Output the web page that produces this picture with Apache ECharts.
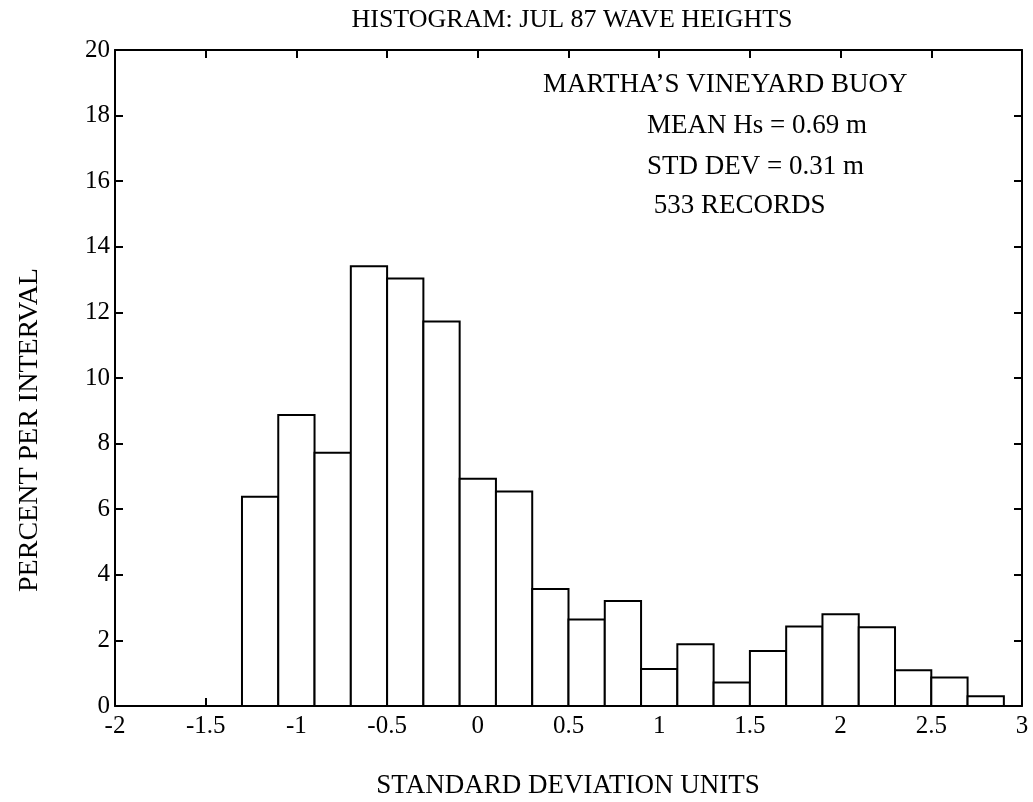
<!DOCTYPE html>
<html>
<head>
<meta charset="utf-8">
<script src="https://cdn.jsdelivr.net/npm/echarts@6/dist/echarts.min.js"></script>
<style>
html,body{margin:0;padding:0;background:#fff;}
#chart{width:1033px;height:802px;}
</style>
</head>
<body>
<div id="chart"></div>
<script>
// Histogram bins (left edge, standard deviation units) and bin width
const binLeft = [-1.3, -1.1, -0.9, -0.7, -0.5, -0.3, -0.1, 0.1, 0.3, 0.5, 0.7,
                 0.9, 1.1, 1.3, 1.5, 1.7, 1.9, 2.1, 2.3, 2.5, 2.7];
const binWidth = 0.2;
// Percent per interval
const percent = [6.38, 8.87, 7.72, 13.41, 13.03, 11.72, 6.93, 6.54, 3.57, 2.64, 3.2,
                 1.13, 1.88, 0.72, 1.68, 2.42, 2.8, 2.4, 1.09, 0.87, 0.3];
const titleText = 'HISTOGRAM: JUL 87 WAVE HEIGHTS';
const xName = 'STANDARD DEVIATION UNITS';
const yName = 'PERCENT PER INTERVAL';
const notes = ["MARTHA\u2019S VINEYARD BUOY", 'MEAN Hs = 0.69 m', 'STD DEV = 0.31 m', ' 533 RECORDS'];

const FONT = '"Liberation Serif", "DejaVu Serif", serif';
const chart = echarts.init(document.getElementById('chart'));
const data = binLeft.map((l, i) => [l, l + binWidth, percent[i]]);

function axisCommon() {
  return {
    axisLine: {show: true, onZero: false, lineStyle: {color: '#000', width: 2}},
    axisTick: {show: true, inside: true, length: 8, lineStyle: {color: '#000', width: 2}},
    splitLine: {show: false}
  };
}

chart.setOption({
  backgroundColor: '#fff',
  animation: false,
  grid: {left: 115, right: 11, top: 50, bottom: 96},
  xAxis: [
    Object.assign({type: 'value', min: -2, max: 3, interval: 0.5, position: 'bottom',
      axisLabel: {color: '#000', fontFamily: FONT, fontSize: 25, margin: 8}}, axisCommon()),
    Object.assign({type: 'value', min: -2, max: 3, interval: 0.5, position: 'top',
      axisLabel: {show: false}}, axisCommon())
  ],
  yAxis: [
    Object.assign({type: 'value', min: 0, max: 20, interval: 2, position: 'left',
      axisLabel: {color: '#000', fontFamily: FONT, fontSize: 25, margin: 5}}, axisCommon()),
    Object.assign({type: 'value', min: 0, max: 20, interval: 2, position: 'right',
      axisLabel: {show: false}}, axisCommon())
  ],
  graphic: [
    {type: 'text', x: 572, y: 20, style: {text: titleText, font: '26px ' + FONT, fill: '#000', textAlign: 'center', textVerticalAlign: 'middle'}},
    {type: 'text', x: 568, y: 786, style: {text: xName, font: '27px ' + FONT, fill: '#000', textAlign: 'center', textVerticalAlign: 'middle'}},
    {type: 'text', x: 30, y: 430, rotation: Math.PI / 2, originX: 0, originY: 0,
      style: {text: yName, font: '28px ' + FONT, fill: '#000', textAlign: 'center', textVerticalAlign: 'middle'}},
    {type: 'text', x: 543, y: 85, style: {text: notes[0], font: '27px ' + FONT, fill: '#000', textVerticalAlign: 'middle'}},
    {type: 'text', x: 647, y: 126, style: {text: notes[1], font: '27px ' + FONT, fill: '#000', textVerticalAlign: 'middle'}},
    {type: 'text', x: 647, y: 167, style: {text: notes[2], font: '27px ' + FONT, fill: '#000', textVerticalAlign: 'middle'}},
    {type: 'text', x: 647, y: 206, style: {text: notes[3], font: '27px ' + FONT, fill: '#000', textVerticalAlign: 'middle'}}
  ],
  series: [{
    type: 'custom',
    xAxisIndex: 0, yAxisIndex: 0,
    data: data,
    encode: {x: [0, 1], y: 2},
    renderItem: function (params, api) {
      const p0 = api.coord([api.value(0), api.value(2)]);
      const p1 = api.coord([api.value(1), 0]);
      return {
        type: 'rect',
        shape: {x: p0[0], y: p0[1], width: p1[0] - p0[0], height: p1[1] - p0[1]},
        style: {fill: '#fff', stroke: '#000', lineWidth: 2}
      };
    }
  }]
});
</script>
</body>
</html>
